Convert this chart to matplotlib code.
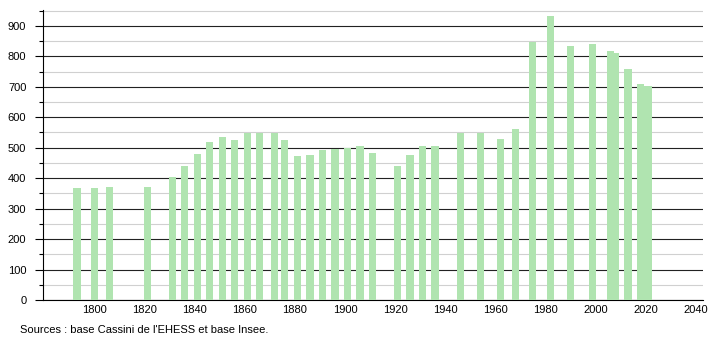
import matplotlib.pyplot as plt
from matplotlib.ticker import MultipleLocator

plt.rcParams['font.family'] = ['Liberation Sans', 'DejaVu Sans']

# census years and population
years = [1793, 1800, 1806, 1821, 1831, 1836, 1841, 1846, 1851, 1856,
         1861, 1866, 1872, 1876, 1881, 1886, 1891, 1896, 1901, 1906,
         1911, 1921, 1926, 1931, 1936, 1946, 1954, 1962, 1968, 1975,
         1982, 1990, 1999, 2006, 2008, 2013, 2018, 2021]
population = [369, 369, 371, 370, 405, 441, 480, 519, 536, 526,
              547, 547, 547, 526, 473, 477, 493, 497, 500, 506,
              483, 440, 476, 506, 506, 548, 548, 529, 562, 848,
              931, 834, 841, 818, 810, 759, 709, 703]
xticks = list(range(1800, 2041, 20))
source = "Sources : base Cassini de l'EHESS et base Insee."

fig = plt.figure(figsize=(7.1, 3.4), dpi=100)
ax = fig.add_axes([43 / 710, 40 / 340, 660 / 710, 290 / 340])

ax.bar(years, population, width=2.9, color='#b0e4b0', zorder=3)

ax.set_xlim(1779.4, 2043)
ax.set_ylim(0, 952)
ax.set_xticks(xticks)
ax.yaxis.set_major_locator(MultipleLocator(100))
ax.yaxis.set_minor_locator(MultipleLocator(50))
ax.grid(axis='y', which='major', color='#222222', linewidth=0.8, zorder=1)
ax.grid(axis='y', which='minor', color='#d0d0d0', linewidth=0.8, zorder=1)

for s in ['top', 'right']:
    ax.spines[s].set_visible(False)
ax.spines['left'].set_linewidth(0.8)
ax.spines['bottom'].set_linewidth(0.8)
ax.tick_params(axis='x', length=0, labelsize=8, pad=3.5)
ax.tick_params(axis='y', which='major', length=6, width=0.8, labelsize=8, pad=6)
ax.tick_params(axis='y', which='minor', length=3, width=0.8)

fig.text(20 / 710, 1 - 330 / 340, source, fontsize=8, va='center', ha='left')

fig.savefig('out.png', dpi=100)
